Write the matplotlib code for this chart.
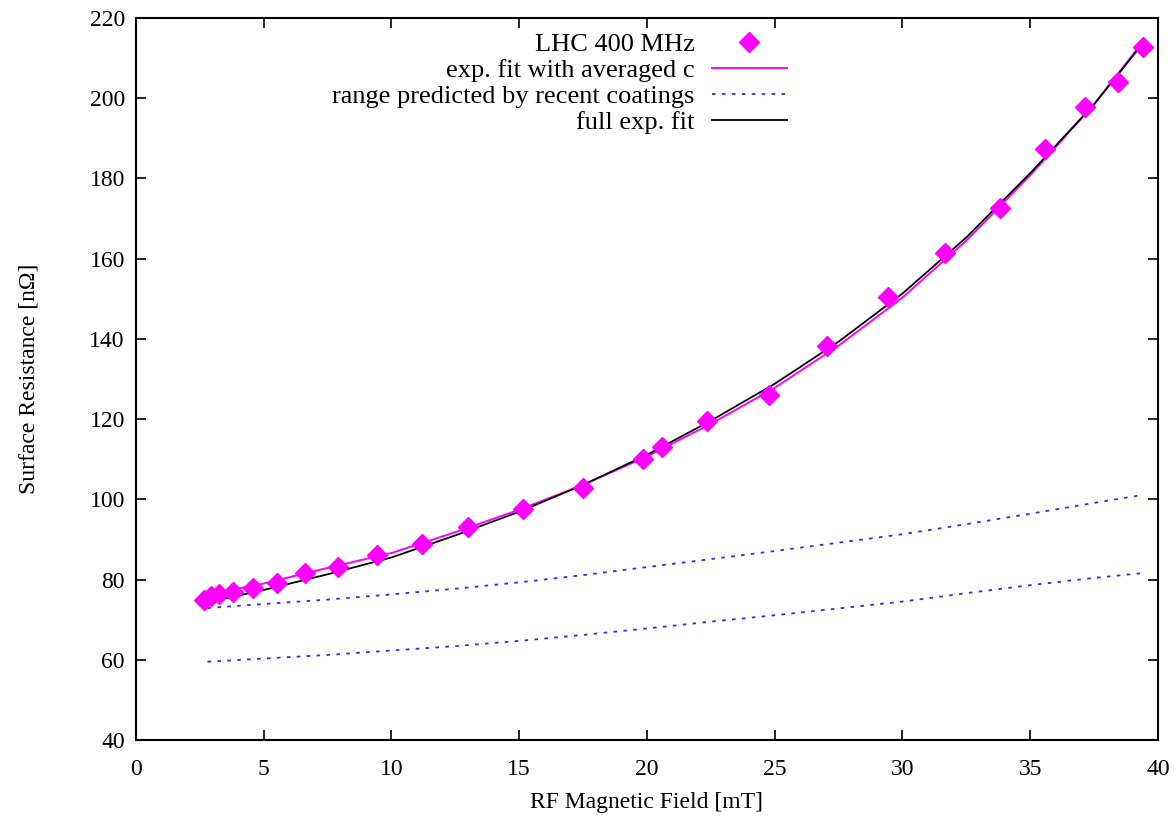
import matplotlib
matplotlib.use("Agg")
import matplotlib.pyplot as plt

# measured surface resistance vs RF field, LHC 400 MHz cavity
field_mT = [2.65, 2.95, 3.25, 3.80, 4.57, 5.53, 6.61, 7.92, 9.42, 11.18,
            13.00, 15.16, 17.51, 19.86, 20.57, 22.34, 24.79, 27.03, 29.44,
            31.66, 33.82, 35.58, 37.14, 38.45, 39.42]
rs_nohm = [75.0, 75.9, 76.3, 77.0, 77.8, 79.2, 81.6, 83.2, 86.1, 88.9,
           93.2, 97.5, 102.8, 110.0, 113.1, 119.4, 126.0, 138.2, 150.5,
           161.5, 172.6, 187.3, 197.7, 204.1, 212.7]

# fit curves, sampled along the field axis
fit_field = [2.8, 5.0, 7.5, 10.0, 12.5, 15.0, 17.5, 20.0, 22.5, 25.0,
             27.5, 30.0, 32.5, 35.0, 37.5, 39.4]
fit_avg_c = [76.2, 79.0, 82.9, 86.6, 91.8, 97.4, 103.6, 110.7, 118.8, 127.8,
             138.3, 150.3, 164.5, 180.8, 198.5, 214.0]
fit_full = [74.3, 77.4, 81.3, 85.5, 91.0, 96.9, 103.6, 111.1, 119.6, 128.8,
            139.3, 151.3, 165.3, 181.3, 198.5, 213.6]
coating_high = [72.9, 73.9, 75.0, 76.3, 77.7, 79.3, 81.1, 83.1, 85.1, 87.1,
                89.2, 91.3, 93.8, 96.4, 99.1, 101.1]
coating_low = [59.5, 60.3, 61.2, 62.3, 63.4, 64.7, 66.2, 67.8, 69.5, 71.1,
               72.8, 74.5, 76.6, 78.6, 80.4, 81.6]

plt.rcParams['font.family'] = ['Liberation Serif', 'DejaVu Serif']

fig = plt.figure(figsize=(11.76, 8.22), dpi=100)
ax = fig.add_axes([0.1156, 0.0998, 0.8691, 0.8783])

ax.plot(field_mT, rs_nohm, linestyle='none', marker='D', markersize=10,
        color='#ff00ff', label='LHC 400 MHz', zorder=3)
ax.plot(fit_field, fit_avg_c, color='#ff00ff', lw=1.4,
        label='exp. fit with averaged c', zorder=2)
ax.plot(fit_field, coating_high, color='#2b2bff', lw=1.3, linestyle=(0, (2, 3.5)),
        label='range predicted by recent coatings')
ax.plot(fit_field, coating_low, color='#2b2bff', lw=1.3, linestyle=(0, (2, 3.5)))
ax.plot(fit_field, fit_full, color='black', lw=1.3, label='full exp. fit', zorder=2.5)

ax.set_xlim(0, 40)
ax.set_ylim(40, 220)
ax.set_xticks(range(0, 41, 5))
ax.set_yticks(range(40, 221, 20))
ax.tick_params(direction='in', length=7, width=1.2, top=True, right=True,
               labelsize=17)
ax.tick_params(axis='x', pad=14)
ax.tick_params(axis='y', pad=8)
for sp in ax.spines.values():
    sp.set_linewidth(1.5)

ax.set_xlabel('RF Magnetic Field [mT]', fontsize=17, labelpad=8)
ax.set_ylabel('Surface Resistance [n\u03a9]', fontsize=17, labelpad=36)

ax.legend(loc='upper right', bbox_to_anchor=(0.637, 0.98), frameon=False,
          markerfirst=False, fontsize=19, handlelength=2.85, handletextpad=0.65,
          labelspacing=0.1, borderpad=0, borderaxespad=0)

fig.savefig('out.png', dpi=100)
